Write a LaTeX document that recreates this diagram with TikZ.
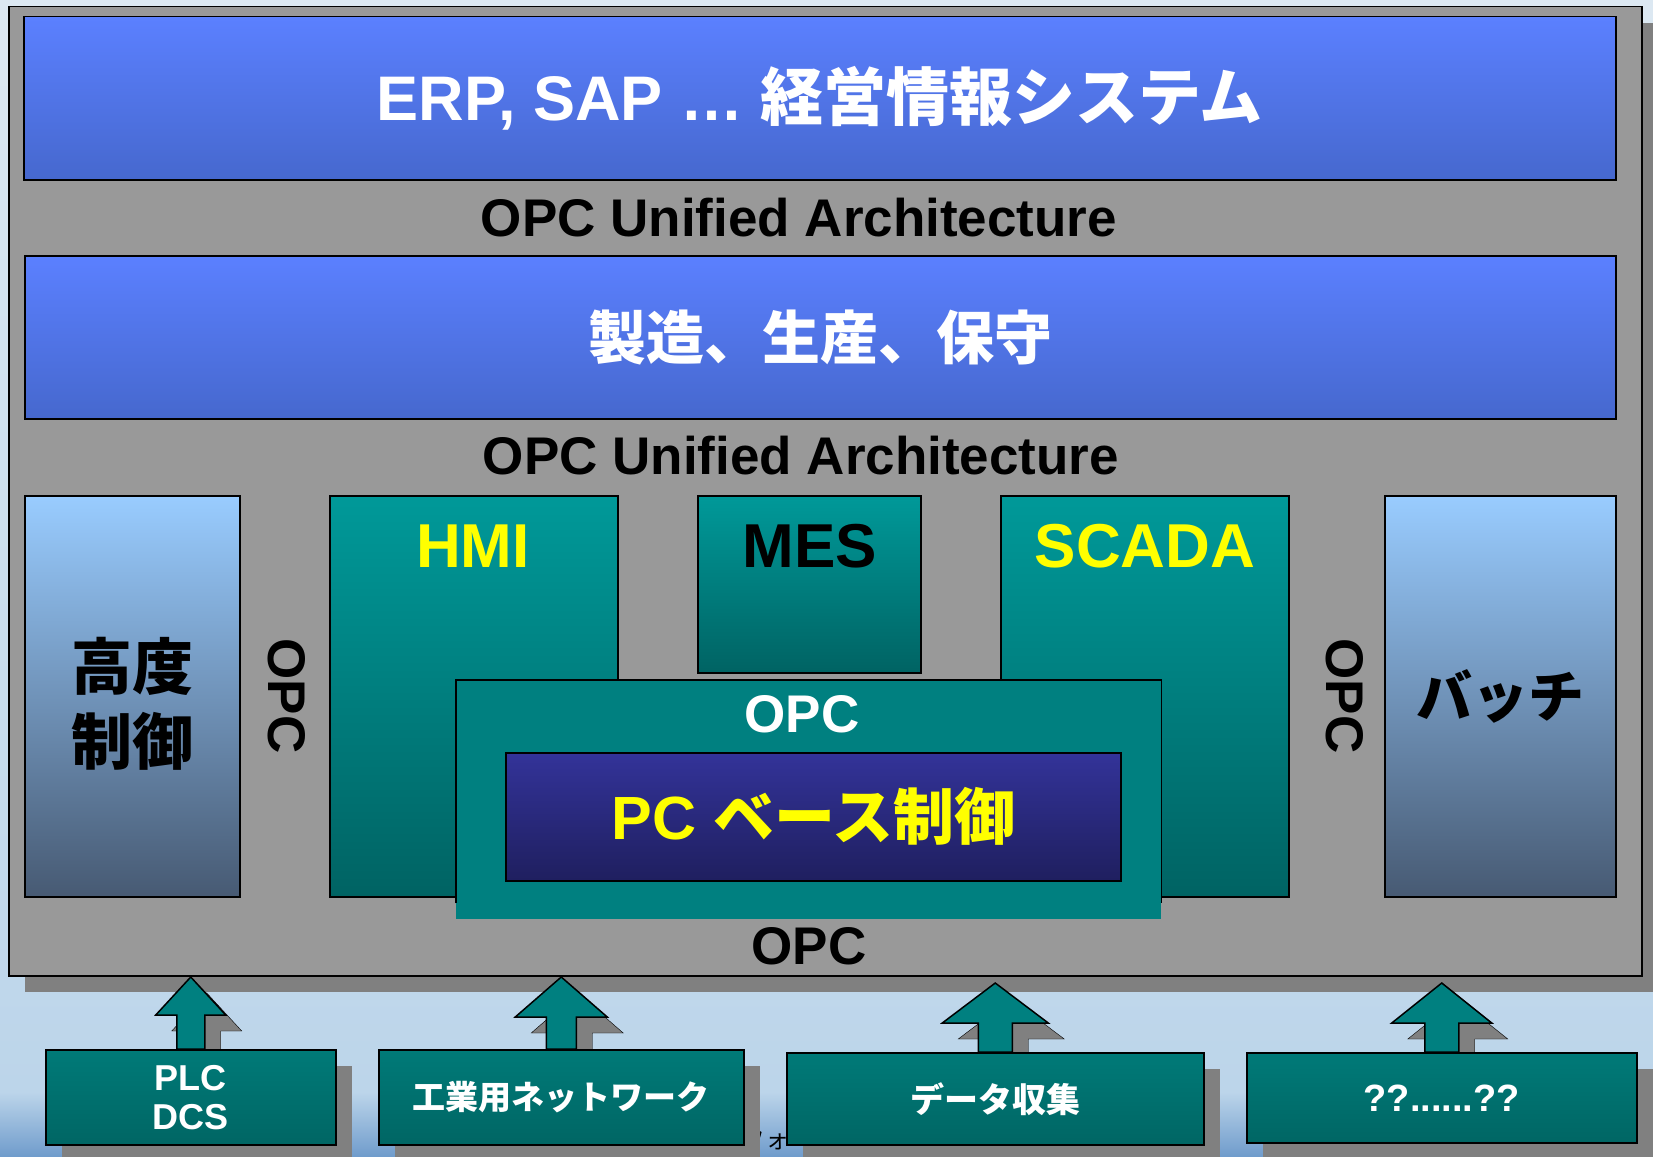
\documentclass[tikz,border=0pt]{standalone}
\usepackage{fontspec}
\setmainfont{Liberation Sans}
\newfontfamily\jpfont{Noto Sans CJK JP}
\usetikzlibrary{calc,shadows}
\pgfdeclarelayer{back}
\pgfsetlayers{back,main}

\definecolor{bgtop}{RGB}{220,232,242}
\definecolor{bgmid}{RGB}{188,213,234}
\definecolor{bgbot}{RGB}{112,156,204}
\definecolor{panelgray}{RGB}{153,153,153}
\definecolor{shadowgray}{RGB}{128,128,128}
\definecolor{bluetop}{RGB}{91,128,255}
\definecolor{bluebot}{RGB}{70,104,206}
\definecolor{skytop}{RGB}{153,204,255}
\definecolor{skybot}{RGB}{71,90,115}
\definecolor{tealtop}{RGB}{0,153,153}
\definecolor{tealbot}{RGB}{0,99,99}
\definecolor{tealmid}{RGB}{0,128,128}
\definecolor{pctop}{RGB}{51,51,153}
\definecolor{pcbot}{RGB}{31,31,95}
\definecolor{srctop}{RGB}{0,122,120}
\definecolor{srcbot}{RGB}{0,102,100}
\definecolor{hiyellow}{RGB}{255,255,0}

\newcommand{\pxfont}[2]{\fontsize{#1}{#2}\selectfont}
% block arrow: node, shaft half, head half, shaft length, head length, style, offset
\newcommand{\upblock}[7]{%
  \coordinate (base) at ($(#1.north)+(#7)$);
  \draw[#6] ($(base)+(-#2,0)$) -- ++(0,-#4) -- ++({#2-#3},0) -- ($(base)+(0,{-#4-#5})$)
    -- ($(base)+(#3,-#4)$) -- ++({#2-#3},0) -- ++(0,#4) -- cycle;}

\begin{document}
\begin{tikzpicture}[x=1pt,y=-1pt,
  box/.style={draw=black,line width=1.5pt,anchor=north west,inner sep=0pt},
  boxshadow/.style={drop shadow={shadow xshift=16pt,shadow yshift=-16pt,fill=shadowgray,opacity=1}},
  bluebox/.style={box,top color=bluetop,bottom color=bluebot,text=white},
  skybox/.style={box,top color=skytop,bottom color=skybot,text=black,align=center,font=\jpfont\bfseries\pxfont{61}{75}},
  skytxt/.style={text=black,align=center,font=\jpfont\bfseries\pxfont{61}{75}},
  tealbox/.style={box,top color=tealtop,bottom color=tealbot},
  pcbox/.style={box,top color=pctop,bottom color=pcbot,text=hiyellow,font=\bfseries\pxfont{61}{61}},
  srcbox/.style={box,boxshadow,top color=srctop,bottom color=srcbot,text=white,align=center},
  uatext/.style={text=black,font=\bfseries\pxfont{53}{53}},
  sidetxt/.style={text=black,rotate=-90,font=\bfseries\pxfont{53}{53}},
  headtxt/.style={font=\bfseries\pxfont{62}{62}},
  opctxt/.style={font=\bfseries\pxfont{53}{53}},
  arrowbody/.style={fill=tealmid,draw=black,line width=1.5pt},
  arrowshade/.style={fill=shadowgray}]

\useasboundingbox (0,0) rectangle (1653,1156);
\begin{pgfonlayer}{back}
  \shade[top color=bgtop,bottom color=bgmid] (0,0) rectangle (1653,1092);
  \shade[top color=bgmid,bottom color=bgbot] (0,1092) rectangle (1653,1156);
\end{pgfonlayer}

\node[font=\jpfont\pxfont{24}{24}] (stray) at (765,1141) {フォ};

% main panel
\node[box,fill=panelgray,boxshadow,minimum width=1633pt,minimum height=969pt] (panel) at (8,6) {};

\node[bluebox,minimum width=1592pt,minimum height=163pt,font=\bfseries\pxfont{63}{63}] (erp) at (23,16) {ERP, SAP … {\jpfont 経営情報システム}};
\node[uatext] (uatop) at (799,218) {OPC Unified Architecture};
\node[bluebox,minimum width=1591pt,minimum height=163pt,font=\jpfont\bfseries\pxfont{58}{58}] (mfg) at (24,255) {製造、生産、保守};
\node[uatext] (uamid) at (801,456) {OPC Unified Architecture};

\node[skybox,minimum width=215pt,minimum height=401pt] (adv) at (24,495) {};
\node[skytxt] (advlbl) at (132,704) {高度\\制御};
\node[sidetxt] (opcleft) at (287,696) {OPC};
\node[tealbox,minimum width=288pt,minimum height=401pt] (hmi) at (329,495) {};
\node[tealbox,minimum width=223pt,minimum height=177pt] (mes) at (697,495) {};
\node[tealbox,minimum width=288pt,minimum height=401pt] (scada) at (1000,495) {};
\node[sidetxt] (opcright) at (1345,696) {OPC};
\node[skybox,minimum width=231pt,minimum height=401pt,font=\jpfont\bfseries\pxfont{56}{56}] (batch) at (1384,495) {バッチ};

\node[headtxt,text=hiyellow] (hmilbl) at (473,546) {HMI};
\node[headtxt,text=black] (meslbl) at (810,546) {MES};
\node[headtxt,text=hiyellow] (scadalbl) at (1145,546) {SCADA};

% OPC wrapper round the PC box
\node[fill=tealmid,anchor=north west,inner sep=0pt,minimum width=705pt,minimum height=239pt] (wrap) at (456,680) {};
\draw[line width=1.5pt] ($(wrap.south west)+(0,-16)$) |- (wrap.north) -| ($(wrap.south east)+(0,-16)$);
\node[opctxt,text=white] (opcwrap) at (802,714) {OPC};
\node[pcbox,minimum width=615pt,minimum height=128pt] (pc) at (505,752) {PC {\jpfont ベース制御}};
\node[opctxt,text=black] (opcbottom) at (809,946) {OPC};

% sources
\node[srcbox,minimum width=290pt,minimum height=95pt,font=\bfseries\pxfont{36}{39}] (plc) at (45,1049) {PLC\\DCS};
\node[srcbox,minimum width=365pt,minimum height=95pt,font=\jpfont\bfseries\pxfont{33}{33}] (net) at (378,1049) {工業用ネットワーク};
\node[srcbox,minimum width=417pt,minimum height=92pt,font=\jpfont\bfseries\pxfont{34}{34}] (daq) at (786,1052) {データ収集};
\node[srcbox,minimum width=390pt,minimum height=90pt,font=\bfseries\pxfont{38}{38}] (other) at (1246,1052) {??......??};

\begin{pgfonlayer}{back}
  \upblock{plc}{14}{35}{34}{38}{arrowshade}{16,16}
  \upblock{net}{15}{46}{32}{40}{arrowshade}{16,16}
  \upblock{daq}{17}{53}{29}{40}{arrowshade}{16,16}
  \upblock{other}{17}{50}{29}{40}{arrowshade}{16,16}
\end{pgfonlayer}
\upblock{plc}{14}{35}{34}{38}{arrowbody}{0,0}
\upblock{net}{15}{46}{32}{40}{arrowbody}{0,0}
\upblock{daq}{17}{53}{29}{40}{arrowbody}{0,0}
\upblock{other}{17}{50}{29}{40}{arrowbody}{0,0}

\end{tikzpicture}
\end{document}
